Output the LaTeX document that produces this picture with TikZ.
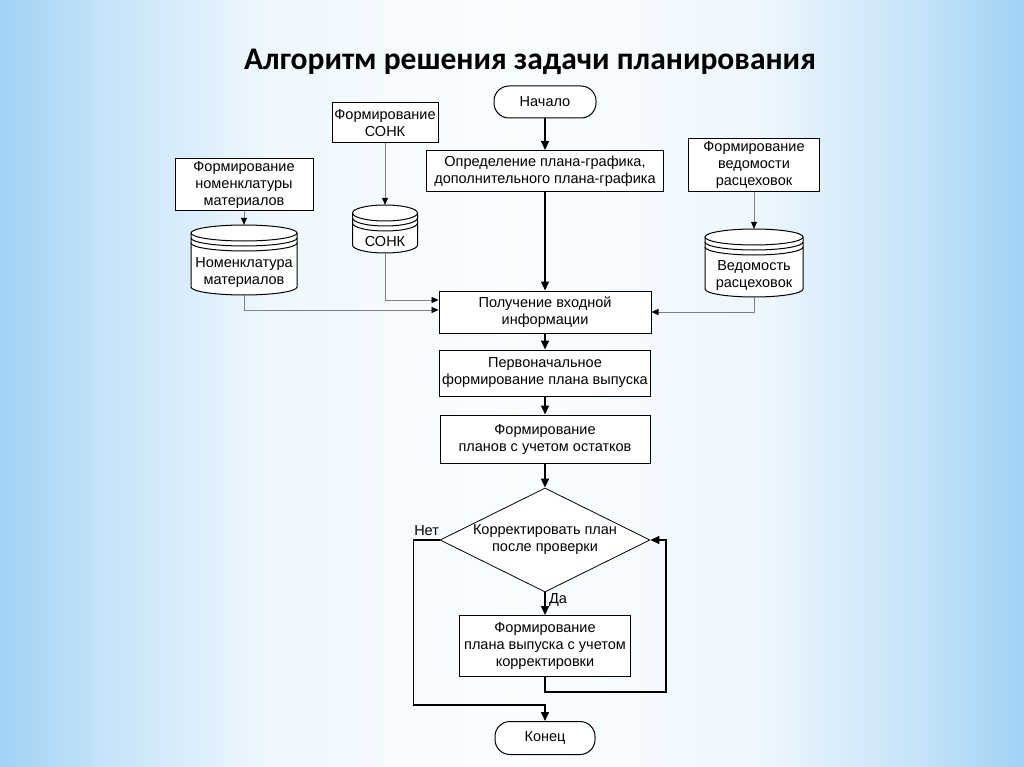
\documentclass[tikz,border=0pt]{standalone}
\usepackage{fontspec}
\setmainfont{Liberation Sans}
\newfontfamily\titlefont{Carlito}
\usetikzlibrary{positioning,arrows.meta,shapes.geometric,calc}

\definecolor{bgblue}{RGB}{160,210,245}
\pgfdeclarehorizontalshading{slidebg}{100bp}{color(0bp)=(bgblue); color(25bp)=(bgblue); color(30bp)=(bgblue!62!white); color(38bp)=(bgblue!18!white); color(50bp)=(bgblue!5!white); color(62bp)=(bgblue!18!white); color(70bp)=(bgblue!62!white); color(75bp)=(bgblue); color(100bp)=(bgblue)}

\tikzset{
  txt/.style={font=\fontsize{14.5}{17}\selectfont},
  box/.style={draw, line width=1pt, fill=white, align=center, inner xsep=2pt,
    inner ysep=0.5pt, txt},
  term/.style={box, rounded corners=15pt},
  cond/.style={diamond, draw, line width=0.8pt, fill=white, align=center,
    inner sep=-6pt, aspect=2, txt},
  dbbody/.style={inner sep=0pt, align=center, txt},
  dbline/.style={line width=1pt, fill=white},
  flow/.style={line width=1.6pt, -{Triangle[length=9pt,width=8pt]}},
  feed/.style={line width=0.8pt, draw=gray, -{Triangle[length=7pt,width=6pt,color=black]}},
}

% cylinder: name, x, y, width, height, text
\newcommand{\dbnode}[6]{%
  \filldraw[dbline] ({#2-#4/2},{#3+#5/2-8}) arc[start angle=180,end angle=0,x radius=#4/2,y radius=8]
    -- ({#2+#4/2},{#3-#5/2-18}) arc[start angle=0,end angle=-180,x radius=#4/2,y radius=8] -- cycle;
  \foreach \d in {18,13,8}
    \draw[line width=1pt] ({#2-#4/2},{#3-#5/2-\d}) arc[start angle=180,end angle=0,x radius=#4/2,y radius=8];
  \node[dbbody, minimum width=#4, minimum height=#5] (#1) at (#2,#3) {#6};
  \coordinate (#1-top) at ($(#1.north)+(0,-26)$);
}

\begin{document}
\begin{tikzpicture}[x=1pt,y=-1pt]
    % Hintergrund
    \shade[shading=slidebg] (0,0) rectangle (1024,767);

    \node[font=\titlefont\fontsize{31.5}{36}\selectfont\bfseries] (title) at (530,62)
      {Алгоритм решения задачи планирования};

    % Hauptlinie
    \node[term, minimum width=102, minimum height=32] (start) at (545,102) {Начало};
    \node[box, minimum width=237, minimum height=41] (sched) at (545,171)
      {Определение плана-графика,\\дополнительного плана-графика};
    \node[box, minimum width=212, minimum height=42] (input) at (545,312)
      {Получение входной\\информации};
    \node[box, minimum width=211, minimum height=46] (init) at (545,373)
      {Первоначальное\\формирование плана выпуска};
    \node[box, minimum width=210, minimum height=48] (rest) at (545,439)
      {Формирование\\планов с учетом остатков};
    \node[cond, minimum width=210, minimum height=104] (check) at (545,540)
      {Корректировать план\\после проверки};
    \node[box, minimum width=171, minimum height=61] (corr) at (545,646)
      {Формирование\\плана выпуска с учетом\\корректировки};
    \node[term, minimum width=100, minimum height=33] (finish) at (545,738) {Конец};

    % Eingangsdaten
    \node[box, minimum width=138, minimum height=52] (nomform) at (244,185)
      {Формирование\\номенклатуры\\материалов};
    \node[box, minimum width=106, minimum height=40] (sonkform) at (385,123)
      {Формирование\\СОНК};
    \node[box, minimum width=131, minimum height=53] (vedform) at (754,165)
      {Формирование\\ведомости\\расцеховок};

    \dbnode{nomdb}{244}{273}{106}{44}{Номенклатура\\материалов}
    \dbnode{sonkdb}{385}{242}{65}{22}{СОНК}
    \dbnode{veddb}{754}{276}{98}{42}{Ведомость\\расцеховок}

    \draw[feed] (nomform) -- (nomdb-top);
    \draw[feed] (sonkform) -- (sonkdb-top);
    \draw[feed] (vedform) -- (veddb-top);
    \draw[feed] (nomdb.south) |- ([yshift=2pt]input.west);
    \draw[feed] (sonkdb.south) |- ([yshift=12pt]input.west);
    \draw[feed] (veddb.south) |- (input.east);

    \draw[flow] (start) -- (sched);
    \draw[flow] (sched) -- (input);
    \draw[flow] (input) -- (init);
    \draw[flow] (init) -- (rest);
    \draw[flow] (rest) -- (check);
    \draw[flow] (check) -- node[right, pos=0.35, txt] (yes) {Да} (corr);

    % Schleife und Ausgang
    \coordinate (join) at ($(finish.north)+(0,-16)$);
    \draw[flow] (check.west) -- node[above, txt] (no) {Нет} ++(-26,0) |- (join) -- (finish);
    \draw[flow] (corr.south) -- ++(0,15) -- ++(121,0) |- (check.east);
\end{tikzpicture}
\end{document}
